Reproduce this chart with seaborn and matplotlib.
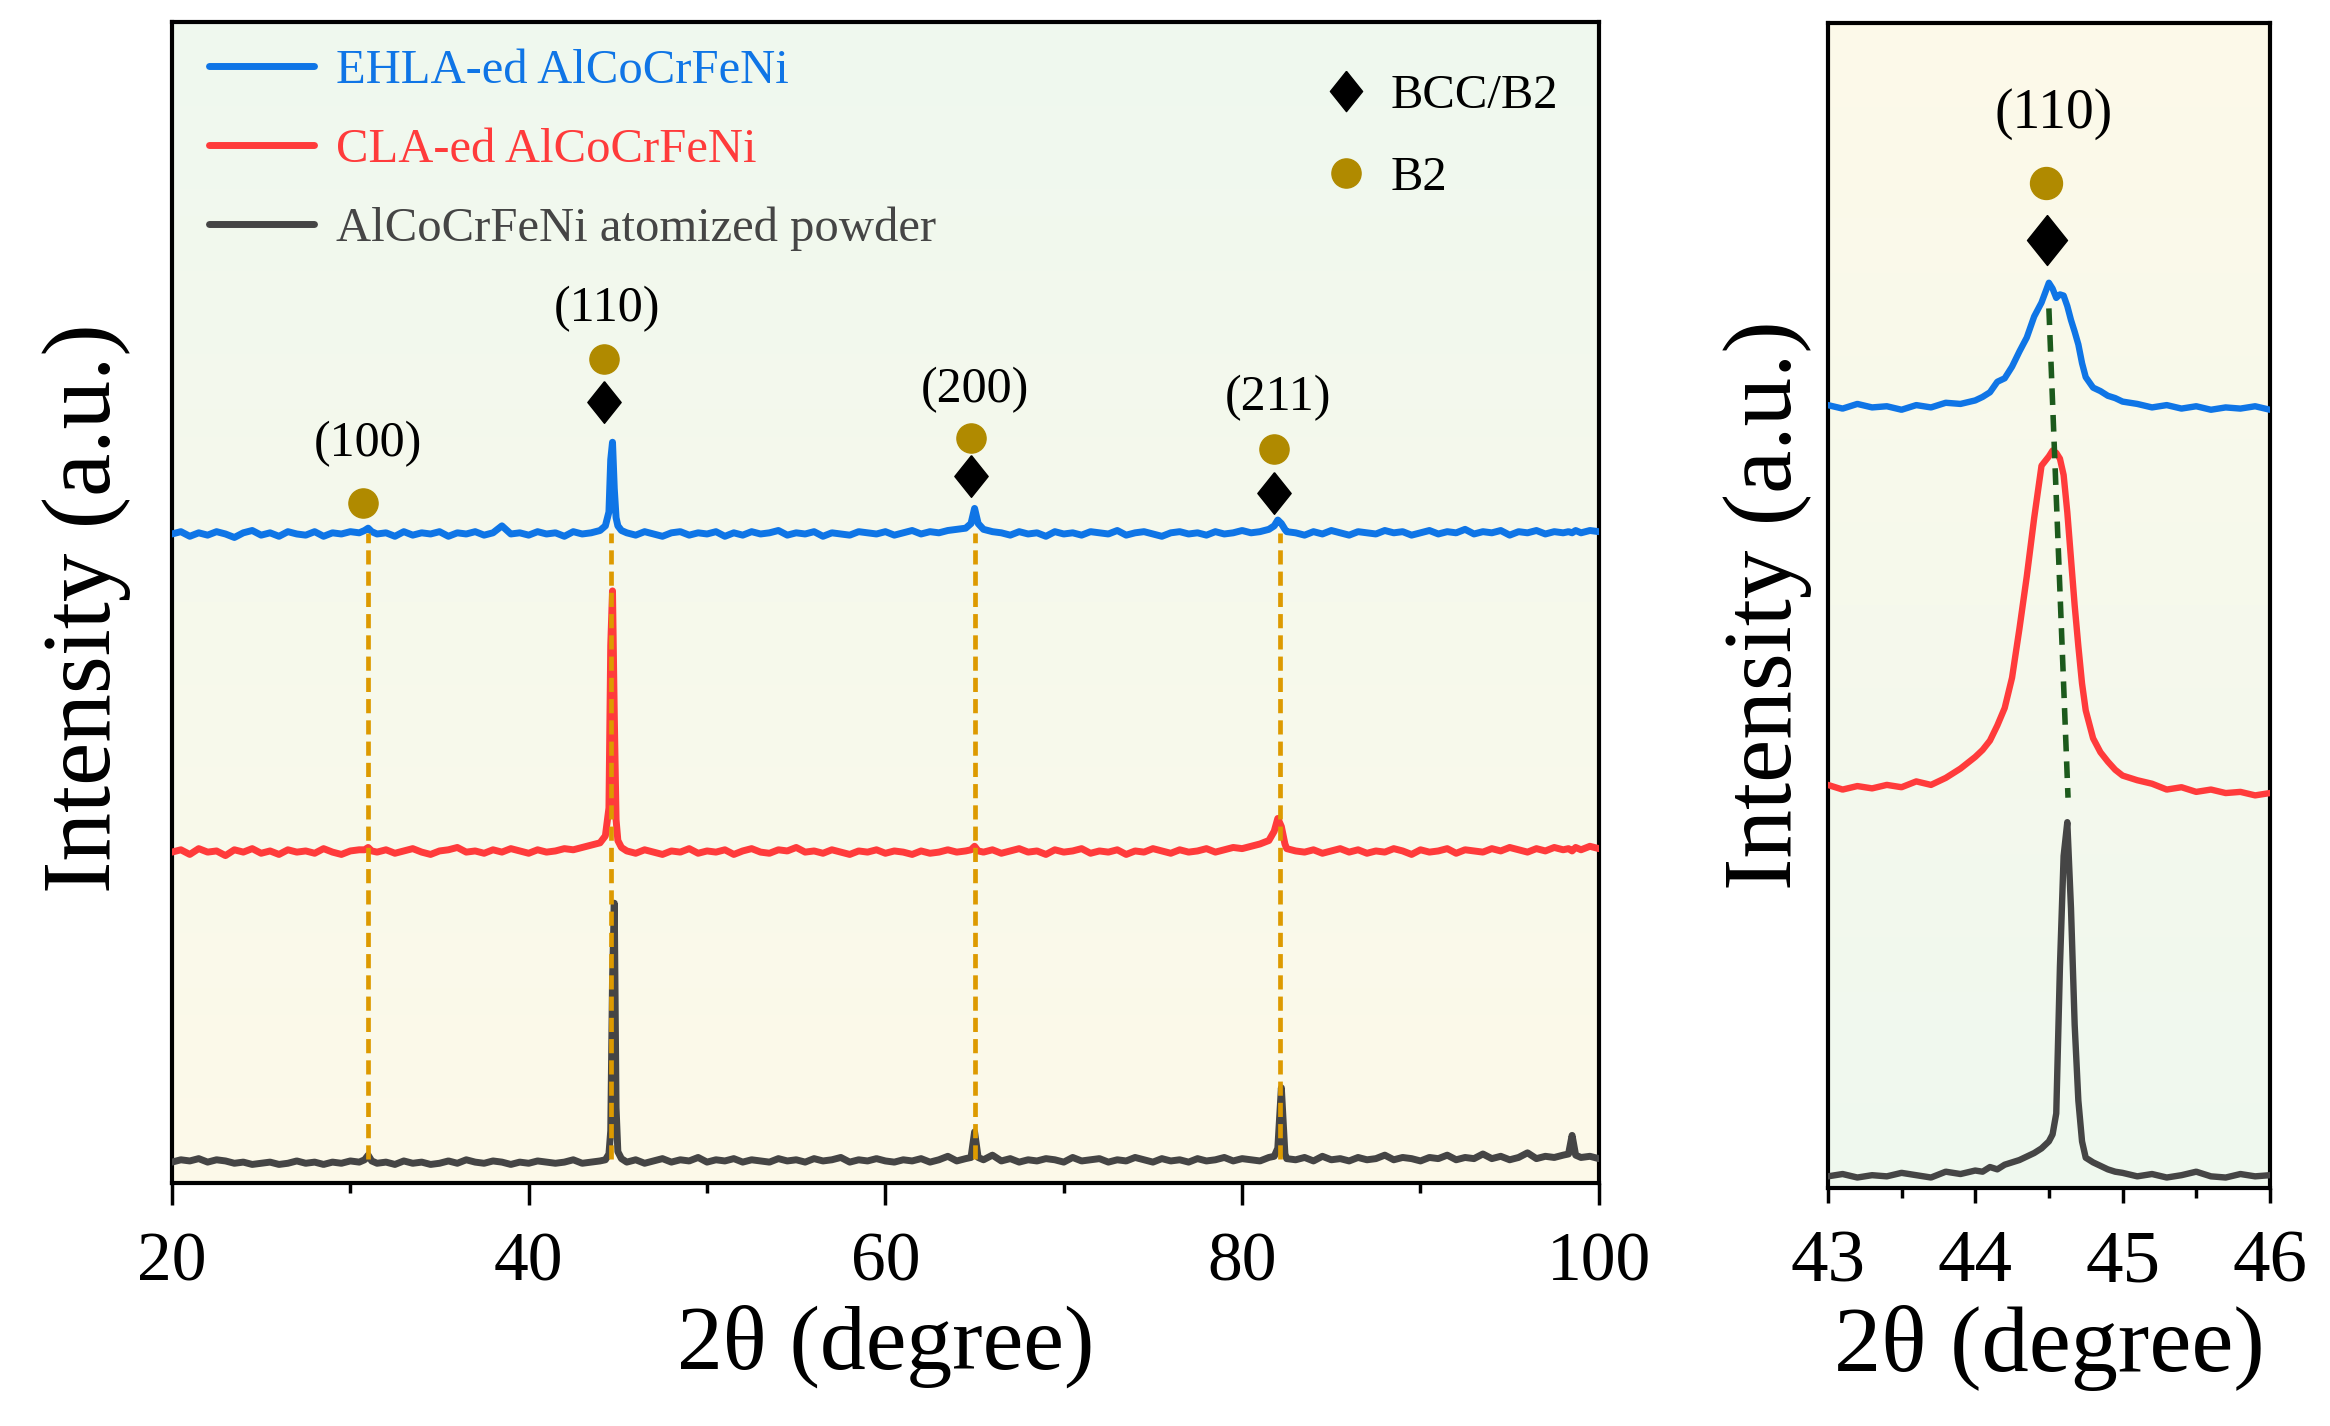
import numpy as np
import matplotlib
matplotlib.use("Agg")
import matplotlib.pyplot as plt
from matplotlib.colors import to_rgb
from matplotlib.lines import Line2D
import seaborn as sns

# ---------------- data ----------------
sample_names = ["EHLA-ed AlCoCrFeNi", "CLA-ed AlCoCrFeNi", "AlCoCrFeNi atomized powder"]
phase_names = ["BCC/B2", "B2"]
peak_labels = ["(100)", "(110)", "(200)", "(211)"]
peak_2theta = [31.0, 44.6, 65.0, 82.1]

# full scan 20-100 deg: 0.5 deg steps plus extra points at the reflections
two_theta = np.concatenate([
    np.arange(20.0, 30.51, 0.5),
    [30.8, 31.0, 31.2],
    np.arange(31.5, 44.01, 0.5),
    [44.3, 44.5, 44.6, 44.7, 44.8, 44.9, 45.0, 45.2],
    np.arange(45.5, 64.51, 0.5),
    [64.8, 65.0, 65.2],
    np.arange(65.5, 81.51, 0.5),
    [81.8, 82.0, 82.2, 82.4],
    np.arange(82.5, 98.01, 0.5),
    [98.3, 98.5, 98.7],
    np.arange(99.0, 100.01, 0.5),
])

# intensities above each pattern's own baseline (a.u.)
ehla_int = [
    0.1, 0.3, -0.1, 0.2, 0.0, 0.3, 0.1, -0.2, 0.2, 0.4, 0.0, 0.2, -0.1, 0.3, 0.1, 0.0, 0.3, -0.1, 0.2, 0.1, 0.3, 0.2,
    0.4, 0.6, 0.3,
    0.1, 0.2, -0.1, 0.3, 0.0, 0.2, 0.1, 0.3, -0.1, 0.2, 0.1, 0.3, 0.0, 0.2, 0.8, 0.1, 0.2, 0.0, 0.3, 0.1, 0.2, -0.1, 0.3, 0.1, 0.2, 0.4,
    0.8, 2.0, 6.5, 8.0, 4.0, 1.5, 0.8, 0.4,
    0.2, 0.0, 0.3, 0.1, -0.1, 0.2, 0.3, 0.0, 0.2, 0.1, 0.3, -0.1, 0.2, 0.0, 0.3, 0.1, 0.2, 0.4, 0.0, 0.2,
    0.1, 0.3, -0.1, 0.2, 0.1, 0.0, 0.3, 0.2, 0.1, 0.3, 0.0, 0.2, 0.4, 0.1, 0.3, 0.2, 0.4, 0.5, 0.6,
    1.0, 2.3, 1.0,
    0.5, 0.3, 0.2, 0.0, 0.3, 0.1, 0.2, -0.1, 0.3, 0.1, 0.2, 0.0, 0.3, 0.2, 0.1, 0.4, 0.0, 0.2, 0.3, 0.1,
    -0.1, 0.2, 0.3, 0.1, 0.2, 0.0, 0.3, 0.1, 0.2, 0.4, 0.2, 0.3, 0.5,
    0.8, 1.3, 1.0, 0.5,
    0.3, 0.2, 0.0, 0.3, 0.1, 0.4, 0.2, 0.0, 0.3, 0.2, 0.1, 0.4, 0.2, 0.3, 0.0, 0.2,
    0.4, 0.1, 0.3, 0.2, 0.5, 0.1, 0.3, 0.2, 0.4, 0.0, 0.3, 0.2, 0.4, 0.1, 0.3, 0.2,
    0.3, 0.2, 0.4,
    0.2, 0.4, 0.3,
]
cla_int = [
    0.2, 0.4, 0.0, 0.5, 0.2, 0.3, -0.1, 0.4, 0.2, 0.5, 0.1, 0.3, 0.0, 0.4, 0.2, 0.3, 0.1, 0.5, 0.2, 0.0, 0.3, 0.4,
    0.4, 0.6, 0.3,
    0.2, 0.4, 0.1, 0.3, 0.5, 0.2, 0.0, 0.3, 0.4, 0.6, 0.2, 0.3, 0.1, 0.4, 0.2, 0.5, 0.3, 0.1, 0.4, 0.2, 0.3, 0.5, 0.4, 0.6, 0.8, 1.0,
    1.6, 4.0, 18.0, 22.7, 12.0, 3.0, 1.2, 0.6,
    0.3, 0.1, 0.4, 0.2, 0.0, 0.3, 0.2, 0.5, 0.1, 0.3, 0.2, 0.4, 0.0, 0.3, 0.5, 0.2, 0.1, 0.4, 0.3, 0.6,
    0.2, 0.3, 0.1, 0.4, 0.2, 0.0, 0.3, 0.2, 0.4, 0.1, 0.3, 0.2, 0.0, 0.3, 0.1, 0.2, 0.4, 0.2, 0.3,
    0.4, 0.7, 0.3,
    0.2, 0.4, 0.1, 0.3, 0.5, 0.2, 0.3, 0.0, 0.4, 0.2, 0.3, 0.5, 0.1, 0.3, 0.2, 0.4, 0.0, 0.3, 0.2, 0.5,
    0.3, 0.1, 0.4, 0.2, 0.3, 0.5, 0.2, 0.4, 0.6, 0.5, 0.7, 0.9, 1.2,
    2.0, 3.1, 2.4, 0.9,
    0.5, 0.3, 0.2, 0.4, 0.1, 0.3, 0.5, 0.2, 0.4, 0.1, 0.3, 0.2, 0.5, 0.3, 0.0, 0.4,
    0.2, 0.3, 0.5, 0.1, 0.4, 0.3, 0.2, 0.5, 0.3, 0.6, 0.4, 0.2, 0.5, 0.3, 0.6, 0.4,
    0.5, 0.3, 0.6,
    0.4, 0.7, 0.5,
]
powder_int = [
    0.3, 0.5, 0.4, 0.6, 0.3, 0.5, 0.4, 0.2, 0.3, 0.1, 0.2, 0.3, 0.1, 0.2, 0.4, 0.2, 0.3, 0.1, 0.3, 0.2, 0.4, 0.3,
    0.5, 0.9, 0.4,
    0.2, 0.3, 0.1, 0.4, 0.2, 0.3, 0.1, 0.2, 0.4, 0.2, 0.5, 0.3, 0.2, 0.4, 0.3, 0.1, 0.3, 0.2, 0.4, 0.3, 0.2, 0.3, 0.5, 0.2, 0.3, 0.4,
    0.5, 1.0, 3.0, 16.0, 22.6, 5.0, 1.2, 0.6,
    0.3, 0.5, 0.2, 0.4, 0.6, 0.3, 0.5, 0.4, 0.7, 0.3, 0.5, 0.4, 0.6, 0.3, 0.5, 0.4, 0.3, 0.6, 0.4, 0.5,
    0.3, 0.6, 0.4, 0.5, 0.7, 0.3, 0.5, 0.4, 0.6, 0.4, 0.3, 0.5, 0.4, 0.6, 0.3, 0.5, 0.8, 0.4, 0.6,
    0.7, 2.9, 0.7,
    0.5, 0.9, 0.4, 0.6, 0.3, 0.5, 0.4, 0.6, 0.5, 0.3, 0.7, 0.4, 0.5, 0.6, 0.3, 0.5, 0.4, 0.7, 0.5, 0.3,
    0.6, 0.4, 0.5, 0.3, 0.6, 0.4, 0.5, 0.7, 0.4, 0.6, 0.5, 0.4, 0.7,
    0.8, 1.5, 6.7, 1.0,
    0.6, 0.5, 0.7, 0.4, 0.8, 0.5, 0.6, 0.4, 0.7, 0.5, 0.6, 0.9, 0.5, 0.7, 0.6, 0.4,
    0.7, 0.6, 0.9, 0.5, 0.7, 0.6, 1.0, 0.6, 0.8, 0.5, 0.7, 1.1, 0.6, 0.8, 0.7, 0.9,
    1.0, 2.6, 0.9,
    0.7, 0.8, 0.6,
]
stack_offsets = [55.8, 28.3, 1.5]   # vertical offsets of the stacked patterns

# zoomed scan 43-46 deg around the (110) reflection (stacked values)
zoom_2theta = np.concatenate([
    np.arange(43.0, 44.01, 0.1),
    np.arange(44.05, 44.51, 0.05),
    np.arange(44.525, 44.751, 0.025),
    np.arange(44.8, 45.01, 0.05),
    np.arange(45.1, 46.01, 0.1),
])
ehla_zoom = [
    67.2, 66.9, 67.3, 67.0, 67.1, 66.8, 67.2, 67.0, 67.4, 67.3, 67.6,
    67.9, 68.3, 69.2, 69.5, 70.5, 71.8, 73.0, 74.8, 76.0, 77.7,
    77.2, 76.4, 76.7, 76.6, 75.7, 74.5, 73.5, 72.4, 70.8, 69.6,
    68.7, 68.4, 68.0, 67.8, 67.5,
    67.3, 67.0, 67.2, 66.9, 67.1, 66.8, 67.0, 66.9, 67.1, 66.8,
]
cla_zoom = [
    34.6, 34.2, 34.5, 34.3, 34.6, 34.4, 34.9, 34.6, 35.2, 36.0, 37.0,
    37.6, 38.4, 39.7, 41.2, 43.8, 48.0, 52.5, 57.5, 62.0, 62.8,
    63.3, 63.1, 62.6, 61.2, 58.0, 54.0, 50.0, 46.5, 43.3, 41.0,
    38.6, 37.4, 36.6, 35.9, 35.4,
    35.0, 34.7, 34.2, 34.4, 34.0, 34.2, 33.9, 34.0, 33.7, 33.9,
]
powder_zoom = [
    1.0, 1.2, 0.9, 1.1, 1.0, 1.3, 1.1, 0.9, 1.4, 1.2, 1.5,
    1.4, 1.8, 1.6, 2.0, 2.2, 2.4, 2.7, 3.0, 3.4, 4.0,
    4.6, 6.4, 19.0, 28.5, 31.4, 24.0, 14.0, 7.5, 4.0, 2.6,
    2.2, 1.9, 1.6, 1.4, 1.3,
    1.0, 1.2, 0.9, 1.1, 1.4, 1.0, 0.9, 1.2, 1.0, 1.1,
]

# ---------------- styling ----------------
sns.set_style("ticks")
plt.rcParams["font.family"] = ["Liberation Serif", "DejaVu Serif"]
plt.rcParams["axes.linewidth"] = 3
plt.rcParams["text.color"] = "black"
plt.rcParams["axes.labelcolor"] = "black"
plt.rcParams["xtick.color"] = "black"

colors = ["#0f75e6", "#ff3b3b", "#454545"]
gold = "#b08a00"
guide_orange = "#dd9a00"
guide_green = "#1c5a1c"
diamond = [(0, 1), (0.8, 0), (0, -1), (-0.8, 0), (0, 1)]


def paint_background(ax, top, bottom, extent):
    frac = np.linspace(0, 1, 256)[:, None, None]
    top, bottom = np.array(to_rgb(top)), np.array(to_rgb(bottom))
    ax.imshow(bottom + (top - bottom) * frac, extent=extent, origin="lower",
              aspect="auto", zorder=0, interpolation="bilinear")


def style_axis(ax, major_len, fs):
    ax.set_yticks([])
    ax.tick_params(axis="x", which="major", direction="out", length=major_len, width=2.5,
                   labelsize=fs, pad=19, colors="black")
    ax.tick_params(axis="x", which="minor", direction="out", length=7, width=2.5, colors="black")
    for s in ax.spines.values():
        s.set_visible(True)
        s.set_linewidth(3)
        s.set_color("black")


fig = plt.figure(figsize=(23.3, 14.26), dpi=100)
ax = fig.add_axes([0.0738, 0.1704, 0.6124, 0.8142])
ax2 = fig.add_axes([0.7845, 0.1669, 0.1897, 0.817])

# ---------------- left panel: full scan ----------------
paint_background(ax, "#eff8ef", "#fdfae9", [20, 100, 0, 100])
for vals, off, c in zip([ehla_int, cla_int, powder_int], stack_offsets, colors):
    sns.lineplot(x=two_theta, y=np.array(vals) + off, ax=ax, color=c, linewidth=5,
                 estimator=None, sort=False, zorder=3)

for pos in peak_2theta:
    ax.plot([pos, pos], [stack_offsets[2] + 0.6, stack_offsets[0] + 0.2], color=guide_orange,
            lw=3.4, ls=(0, (3, 1.5)), zorder=4)

# peak labels and phase markers
ax.text(31.0, 63.7, "(100)", ha="center", va="center", fontsize=36)
ax.plot(30.7, 58.6, "o", ms=21, color=gold, zorder=5)
for pos, lab, ty, cy, dy in [(44.4, "(110)", 75.3, 71.0, 67.3),
                             (65.0, "(200)", 68.3, 64.2, 60.9),
                             (82.0, "(211)", 67.6, 63.2, 59.4)]:
    ax.text(pos, ty, lab, ha="center", va="center", fontsize=36)
    ax.plot(pos - 0.2, cy, "o", ms=21, color=gold, zorder=5)
    ax.plot(pos - 0.2, dy, marker=diamond, ms=30, color="black", ls="none", zorder=5)

curve_handles = [Line2D([], [], color=c, lw=5) for c in colors]
leg1 = ax.legend(curve_handles, sample_names, loc="upper left", bbox_to_anchor=(0.026, 0.977),
                 frameon=False, fontsize=35, handlelength=2.15, handletextpad=0.47,
                 labelspacing=0.72, borderaxespad=0, borderpad=0, labelcolor="linecolor")
marker_handles = [Line2D([], [], ls="none", marker=diamond, ms=29, color="black"),
                  Line2D([], [], ls="none", marker="o", ms=21, color=gold)]
ax.legend(marker_handles, phase_names, loc="upper left", bbox_to_anchor=(0.806, 0.955),
          frameon=False, fontsize=35, handlelength=1.0, handletextpad=0.4,
          labelspacing=0.78, borderaxespad=0, borderpad=0)
ax.add_artist(leg1)

ax.set_xlim(20, 100)
ax.set_ylim(0, 100)
ax.set_xticks([20, 40, 60, 80, 100])
ax.set_xticks([30, 50, 70, 90], minor=True)
style_axis(ax, 16, 50)
ax.set_xlabel("2θ (degree)", fontsize=66)
ax.set_ylabel("Intensity (a.u.)", fontsize=70)
ax.xaxis.set_label_coords(0.5, -0.105)
ax.yaxis.set_label_coords(-0.029, 0.495)

# ---------------- right panel: (110) close-up ----------------
paint_background(ax2, "#fdfae9", "#eff8ef", [43, 46, 0, 100])
for vals, c in zip([ehla_zoom, cla_zoom, powder_zoom], colors):
    sns.lineplot(x=zoom_2theta, y=vals, ax=ax2, color=c, linewidth=4.6,
                 estimator=None, sort=False, zorder=3)
ax2.plot([44.50, 44.63], [75.5, 33.5], color=guide_green, lw=4, ls=(0, (3, 1.8)), zorder=4)
ax2.text(44.53, 92.2, "(110)", ha="center", va="center", fontsize=40)
ax2.plot(44.48, 86.3, "o", ms=23, color=gold, zorder=5)
ax2.plot(44.49, 81.4, marker=diamond, ms=36, color="black", ls="none", zorder=5)

ax2.set_xlim(43, 46)
ax2.set_ylim(0, 100)
ax2.set_xticks([43, 44, 45, 46])
ax2.set_xticks([43.5, 44.5, 45.5], minor=True)
style_axis(ax2, 11, 54)
ax2.set_xlabel("2θ (degree)", fontsize=68)
ax2.set_ylabel("Intensity (a.u.)", fontsize=70)
ax2.xaxis.set_label_coords(0.5, -0.1)
ax2.yaxis.set_label_coords(-0.036, 0.5)

fig.savefig("out.png", dpi=100, facecolor="white")
